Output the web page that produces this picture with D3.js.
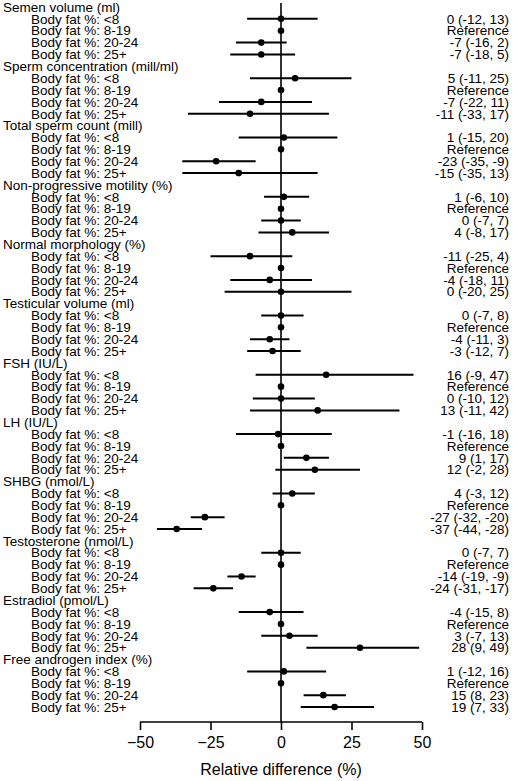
<!DOCTYPE html><html><head><meta charset="utf-8"><script src="https://cdn.jsdelivr.net/npm/d3@7"></script>
<style>body{margin:0;background:#fff}text{font-family:"Liberation Sans",Arial,sans-serif;font-size:13.5px;fill:#000}</style></head><body><svg id="c" width="520" height="781"></svg><script>
const outcomes=["Semen volume (ml)","Sperm concentration (mill/ml)","Total sperm count (mill)","Non-progressive motility (%)","Normal morphology (%)","Testicular volume (ml)","FSH (IU/L)","LH (IU/L)","SHBG (nmol/L)","Testosterone (nmol/L)","Estradiol (pmol/L)","Free androgen index (%)"];
const groups=["Body fat %: <8","Body fat %: 8-19","Body fat %: 20-24","Body fat %: 25+"];
const est=[[0,0,-7,-7],[5,0,-7,-11],[1,0,-23,-15],[1,0,0,4],[-11,0,-4,0],[0,0,-4,-3],[16,0,0,13],[-1,0,9,12],[4,0,-27,-37],[0,0,-14,-24],[-4,0,3,28],[1,0,15,19]];
const lo=[[-12,null,-16,-18],[-11,null,-22,-33],[-15,null,-35,-35],[-6,null,-7,-8],[-25,null,-18,-20],[-7,null,-11,-12],[-9,null,-10,-11],[-16,null,1,-2],[-3,null,-32,-44],[-7,null,-19,-31],[-15,null,-7,9],[-12,null,8,7]];
const hi=[[13,null,2,5],[25,null,11,17],[20,null,-9,13],[10,null,7,17],[4,null,11,25],[8,null,3,7],[47,null,12,42],[18,null,17,28],[12,null,-20,-28],[7,null,-9,-17],[8,null,13,49],[16,null,23,33]];
const ticks=[-50,-25,0,25,50];
const svg=d3.select("#c");
const x=d3.scaleLinear().domain([-50,50]).range([140,422]);
const nRows=outcomes.length*5;
const y=d3.scaleLinear().domain([0,nRows-1]).range([7,707]);
const axisY=722;
svg.append("line").attr("x1",x(0)).attr("x2",x(0)).attr("y1",3).attr("y2",axisY).attr("stroke","#000").attr("stroke-width",1.6);
outcomes.forEach((o,i)=>{
  const r0=i*5;
  svg.append("text").attr("x",3).attr("y",y(r0)).attr("dy","0.35em").text(o);
  groups.forEach((g,j)=>{
    const yy=y(r0+j+1);
    svg.append("text").attr("x",31).attr("y",yy).attr("dy","0.35em").text(g);
    const e=est[i][j];
    if(lo[i][j]!==null){
      svg.append("line").attr("x1",x(lo[i][j])).attr("x2",x(hi[i][j])).attr("y1",yy).attr("y2",yy).attr("stroke","#000").attr("stroke-width",2);
    }
    svg.append("circle").attr("cx",x(e)).attr("cy",yy).attr("r",3.3).attr("fill","#000");
    svg.append("text").attr("x",509).attr("y",yy).attr("dy","0.35em").attr("text-anchor","end")
      .text(lo[i][j]===null?"Reference":`${e} (${lo[i][j]}, ${hi[i][j]})`);
  });
});
const ax=svg.append("g").attr("transform",`translate(0,${axisY})`).call(d3.axisBottom(x).tickValues(ticks).tickSize(8).tickSizeOuter(0).tickFormat(d3.format("d")));
ax.select(".domain").attr("stroke-width",1.6).attr("d",`M${x(-50)},0H${x(50)}`);
ax.selectAll(".tick line").attr("stroke-width",1.6);
ax.selectAll(".tick text").style("font-size","16px").attr("y",12).attr("dy","0.9em");
svg.append("text").attr("x",x(0)).attr("y",769).attr("dy","0.35em").attr("text-anchor","middle").style("font-size","16px").text("Relative difference (%)");
</script></body></html>
